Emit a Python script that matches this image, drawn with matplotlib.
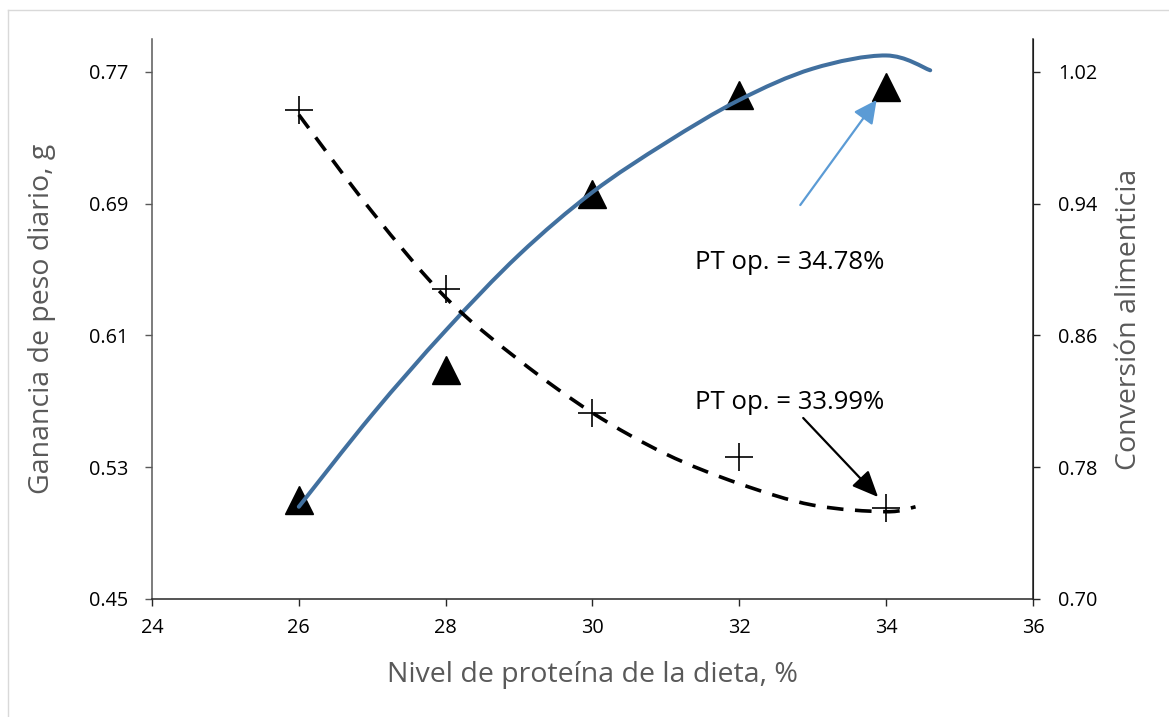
import numpy as np
import matplotlib
matplotlib.use('Agg')
import matplotlib.pyplot as plt
from matplotlib.path import Path
from matplotlib.patches import PathPatch
from matplotlib.lines import Line2D

plt.rcParams['font.family'] = ['Open Sans', 'DejaVu Sans']

# observed values
protein = [26, 28, 30, 32, 34]
ganancia = [0.510, 0.589, 0.696, 0.756, 0.761]      # left axis
conversion = [0.997, 0.888, 0.813, 0.786, 0.755]    # right axis

# trend curves
trend_gan_x = [26, 27, 28, 29, 30, 31, 32, 33, 34, 34.6]
trend_gan_y = [0.506, 0.562, 0.613, 0.659, 0.697, 0.727, 0.753, 0.772, 0.780, 0.771]
trend_conv_x = [26, 27, 28, 29, 30, 31, 32, 33, 34, 34.4]
trend_conv_y = [0.994, 0.935, 0.883, 0.845, 0.813, 0.788, 0.770, 0.757, 0.753, 0.756]

x_ticks = [24, 26, 28, 30, 32, 34, 36]
left_ticks = [0.45, 0.53, 0.61, 0.69, 0.77]
right_ticks = [0.70, 0.78, 0.86, 0.94, 1.02]


def smooth_path(xs, ys):
    # Catmull-Rom through the points, drawn as cubic Bezier segments (like Excel's smoothed line)
    p = np.column_stack([xs, ys]).astype(float)
    p_ext = np.vstack([p[0], p, p[-1]])
    verts = [p[0]]
    codes = [Path.MOVETO]
    for i in range(1, len(p_ext) - 2):
        p0, p1, p2, p3 = p_ext[i - 1], p_ext[i], p_ext[i + 1], p_ext[i + 2]
        verts += [p1 + (p2 - p0) / 6, p2 - (p3 - p1) / 6, p2]
        codes += [Path.CURVE4] * 3
    return Path(verts, codes)


W, H, DPI = 1169, 717, 100
fig = plt.figure(figsize=(W / DPI, H / DPI), dpi=DPI, facecolor='white')
ax = fig.add_axes([152 / W, 1 - 599 / H, (1033 - 152) / W, (599 - 39) / H])
ax2 = ax.twinx()

# chart area border
fig.add_artist(Line2D([8 / W, 8 / W], [0, 1 - 10 / H], color='#d9d9d9', lw=1.0))
fig.add_artist(Line2D([8 / W, 1], [1 - 10 / H, 1 - 10 / H], color='#d9d9d9', lw=1.0))

ax.plot(protein, ganancia, linestyle='none', marker='^', ms=20, color='black', zorder=2)
ax.add_patch(PathPatch(smooth_path(trend_gan_x, trend_gan_y), fill=False,
                       edgecolor='#41709f', lw=2.9, capstyle='round', zorder=3))

ax2.plot(protein, conversion, linestyle='none', marker='+', ms=20, mew=1.2, color='black', zorder=2)
ax2.add_patch(PathPatch(smooth_path(trend_conv_x, trend_conv_y), fill=False,
                        edgecolor='black', lw=2.6, linestyle=(0, (4.6, 3.2)),
                        capstyle='butt', zorder=3))

ax.set_xlim(24, 36)
ax.set_ylim(0.45, 0.79)
ax2.set_ylim(0.70, 1.04)
ax.set_xticks(x_ticks)
ax.set_yticks(left_ticks)
ax.set_yticklabels([f'{v:.2f}' for v in left_ticks])
ax2.set_yticks(right_ticks)
ax2.set_yticklabels([f'{v:.2f}' for v in right_ticks])

for a in (ax, ax2):
    a.spines['top'].set_visible(False)
    a.patch.set_visible(False)
ax.spines['left'].set_color('#595959')
ax.spines['bottom'].set_color('#262626')
ax2.spines['right'].set_color('#262626')
ax2.spines['left'].set_visible(False)
ax2.spines['bottom'].set_visible(False)
for s in ('left', 'bottom'):
    ax.spines[s].set_linewidth(1.1)
ax2.spines['right'].set_linewidth(1.1)

ax.tick_params(axis='y', direction='out', length=5, width=1.0, color='#595959', pad=12, labelsize=14.3)
ax.tick_params(axis='x', direction='out', length=5, width=1.0, color='#262626', pad=9, labelsize=14.3)
ax2.tick_params(axis='y', direction='out', length=5, width=1.0, color='#262626', pad=13, labelsize=14.3)

ax.set_xlabel('Nivel de proteína de la dieta, %', fontsize=20.5, color='#595959', labelpad=16)
ax.set_ylabel('Ganancia de peso diario, g', fontsize=20.5, color='#595959', labelpad=24)
ax2.set_ylabel('Conversión alimenticia', fontsize=20.5, color='#595959', labelpad=13)

# optimum annotations
ax.text(31.40, 0.6545, 'PT op. = 34.78%', fontsize=18.5, ha='left', va='center', zorder=5)
ax.annotate('', xy=(33.87, 0.753), xytext=(32.83, 0.6892),
            arrowprops=dict(arrowstyle='-|>,head_length=0.7,head_width=0.35', color='#5b9bd5',
                            lw=1.6, mutation_scale=20, shrinkA=0, shrinkB=0), zorder=5)
ax2.text(31.40, 0.5695 + 0.25, 'PT op. = 33.99%', fontsize=18.5, ha='left', va='center', zorder=5)
ax2.annotate('', xy=(33.89, 0.5119 + 0.25), xytext=(32.87, 0.5599 + 0.25),
             arrowprops=dict(arrowstyle='-|>,head_length=0.8,head_width=0.35', color='black',
                             lw=1.6, mutation_scale=20, shrinkA=0, shrinkB=0), zorder=5)

fig.savefig('out.png', dpi=DPI, facecolor='white')
